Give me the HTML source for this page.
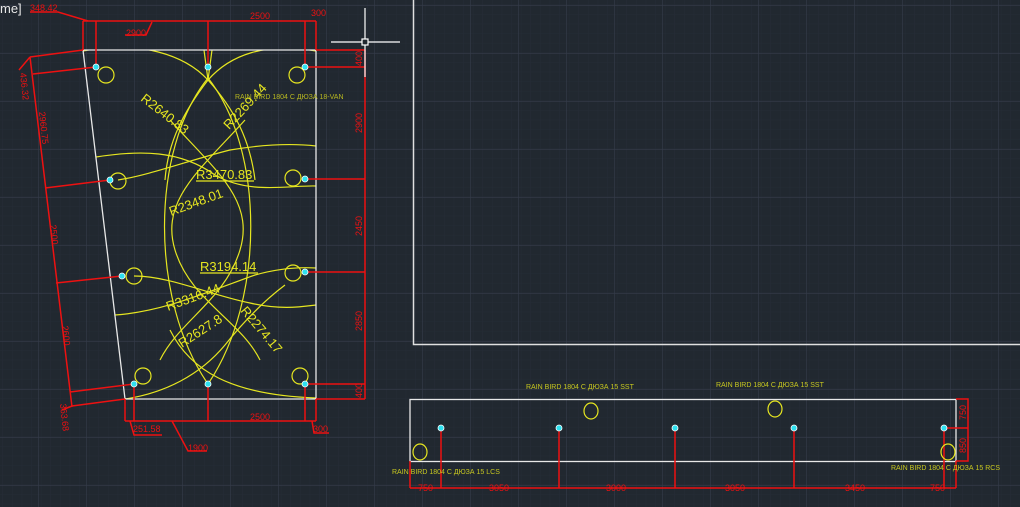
<!DOCTYPE html>
<html><head><meta charset="utf-8"><style>
html,body{margin:0;padding:0;background:#212830;}
svg{display:block;}
text{font-family:"Liberation Sans","DejaVu Sans",sans-serif;}
</style></head><body>
<svg width="1020" height="507" viewBox="0 0 1020 507" xmlns="http://www.w3.org/2000/svg">
<defs>
<pattern id="mi" width="9.6" height="9.6" patternUnits="userSpaceOnUse" x="3" y="5"><path d="M9.6 0V9.6M0 9.6H9.6" stroke="#252c36" stroke-width="1" fill="none"/></pattern>
<pattern id="ma" width="48" height="48" patternUnits="userSpaceOnUse" x="-10" y="5"><path d="M0 0V48M0 0H48" stroke="#353c4a" stroke-width="1.2" fill="none"/></pattern>
<clipPath id="cp"><polygon points="83,50 316,50 316,399 125,399"/></clipPath>
</defs>
<rect width="1020" height="507" fill="#212830"/>
<rect width="1020" height="507" fill="url(#mi)"/>
<rect width="1020" height="507" fill="url(#ma)"/>

<text x="0" y="13" fill="#e8e8e8" font-size="13">me]</text>

<!-- right frame -->
<path d="M413.5 0V344.5H1020" stroke="#e0e0e0" stroke-width="1.5" fill="none"/>

<!-- left drawing yellow arcs -->
<g clip-path="url(#cp)" stroke="#e6e620" stroke-width="1.2" fill="none">
<path d="M208,78 C150,150 150,300 208,384"/>
<path d="M208,78 C265,150 265,300 208,384"/>
<path d="M245,120 C200,170 160,200 175,250 C190,300 240,320 260,360"/>
<path d="M170,120 C215,170 255,200 240,250 C225,300 180,320 160,360"/>
<path d="M96,157 C140,150 180,150 215,175 C250,195 290,185 316,186"/>
<path d="M118,180 C150,175 190,160 230,150 C260,145 290,143 316,146"/>
<path d="M115,315 C160,312 200,295 255,275 C280,268 300,267 316,268"/>
<path d="M134,276 C170,276 210,295 250,303 C280,310 300,307 316,305"/>
<path d="M125,399 C165,393 200,375 225,345 C245,320 265,300 285,285"/>
<path d="M170,330 C190,370 230,395 316,398"/>
<path d="M83,51 C140,40 185,55 208,80 C235,110 250,140 255,180"/>
<path d="M316,51 C265,42 230,55 208,80 C185,110 168,140 165,180"/>
<path d="M204,50 L208,80 L212,50"/>
</g>
<!-- white outline -->
<polygon points="83,50 316,50 316,399 125,399" fill="none" stroke="#e8e8e8" stroke-width="1.3"/>

<!-- red dims left drawing -->
<g stroke="#ee1111" stroke-width="1.5" fill="none">
<path d="M83,21H316M83,21V50M96,21V67M208,21V67M305,21V67M316,21V50"/>
<path d="M88,21L58,12H30M152,22L146,35H125M316,50H365M305,67H365M305,179H365M305,272H365M305,384H365M316,399H365M365,50V399"/>
<path d="M125,421H316M125,399V421M134,384V421M208,384V421M305,384V421M316,399V421"/>
<path d="M130,421L134,435H162M172,421L188,451H207M312,421L314,433H329"/>
<path d="M30,57L72,407M30,57L83,50M33,74L96,67M45,188L110,180M56,283L122,276M70,392L134,384M72,406L125,399M30,57L19,70M72,406L62,410"/>
</g>
<g fill="#ee1111" font-size="9">
<text x="250" y="19">2500</text>
<text x="311" y="16">300</text>
<text x="30" y="11">348.42</text>
<text x="126" y="36">2900</text>
<text x="250" y="420">2500</text>
<text x="133" y="432">251.58</text>
<text x="188" y="451">1900</text>
<text x="313" y="432">300</text>
<text transform="translate(362,66) rotate(-90)">400</text>
<text transform="translate(362,133) rotate(-90)">2900</text>
<text transform="translate(362,236) rotate(-90)">2450</text>
<text transform="translate(362,331) rotate(-90)">2850</text>
<text transform="translate(362,398) rotate(-90)">400</text>
<text transform="translate(20,73) rotate(84)">436.32</text>
<text transform="translate(39,112) rotate(84)">2960.75</text>
<text transform="translate(50,225) rotate(84)">2500</text>
<text transform="translate(62,326) rotate(84)">2600</text>
<text transform="translate(60,404) rotate(84)">363.68</text>
</g>

<!-- small circles and nozzles -->
<g stroke="#e6e620" stroke-width="1.2" fill="none">
<circle cx="106" cy="75" r="8"/><circle cx="297" cy="75" r="8"/>
<circle cx="118" cy="181" r="8"/><circle cx="293" cy="178" r="8"/>
<circle cx="134" cy="276" r="8"/><circle cx="293" cy="273" r="8"/>
<circle cx="143" cy="376" r="8"/><circle cx="300" cy="376" r="8"/>
</g>
<g fill="#2ee0f0" stroke="#ffffff" stroke-width="0.8">
<circle cx="96" cy="67" r="3"/><circle cx="208" cy="67" r="3"/><circle cx="305" cy="67" r="3"/>
<circle cx="110" cy="180" r="3"/><circle cx="305" cy="179" r="3"/>
<circle cx="122" cy="276" r="3"/><circle cx="305" cy="272" r="3"/>
<circle cx="134" cy="384" r="3"/><circle cx="208" cy="384" r="3"/><circle cx="305" cy="384" r="3"/>
</g>

<!-- radius labels -->
<g fill="#e6e620" font-size="13">
<text transform="translate(140,100) rotate(38)">R2640.83</text>
<text transform="translate(229,130) rotate(-47)">R2269.44</text>
<text x="196" y="179">R3470.83</text>
<text transform="translate(171,216) rotate(-20)">R2348.01</text>
<text x="200" y="271">R3194.14</text>
<text transform="translate(168,311) rotate(-20)">R3316.44</text>
<text transform="translate(182,348) rotate(-33)">R2627.8</text>
<text transform="translate(240,311) rotate(50)">R2274.17</text>
</g>
<g stroke="#e6e620" stroke-width="1.2">
<line x1="196" y1="181" x2="254" y2="181"/>
<line x1="200" y1="273" x2="258" y2="273"/>
</g>
<text x="235" y="99" fill="#b8b820" font-size="7">RAIN BIRD 1804 С ДЮЗА 18-VAN</text>

<!-- crosshair -->
<g stroke="#ffffff" stroke-width="1.2" fill="none">
<line x1="331" y1="42" x2="400" y2="42"/>
<line x1="365" y1="8" x2="365" y2="77"/>
<rect x="362" y="39" width="6" height="6" fill="#212830"/>
</g>

<!-- bottom right drawing -->
<rect x="410" y="399.5" width="546" height="62" fill="none" stroke="#e8e8e8" stroke-width="1.3"/>
<g stroke="#ee1111" stroke-width="1.5" fill="none">
<path d="M956,399H968V461H956M944,428H968M944,428V488M410,461V488M410,488H956M441,428V488M559,428V488M675,428V488M794,428V488M956,461V488"/>
</g>
<g fill="#ee1111" font-size="9">
<text transform="translate(966,420) rotate(-90)">750</text>
<text transform="translate(966,453) rotate(-90)">850</text>
<text x="418" y="491">750</text>
<text x="489" y="491">3050</text>
<text x="606" y="491">3000</text>
<text x="725" y="491">3050</text>
<text x="845" y="491">3450</text>
<text x="930" y="491">750</text>
</g>
<g stroke="#e6e620" stroke-width="1.2" fill="none">
<ellipse cx="591" cy="411" rx="7" ry="8"/>
<ellipse cx="775" cy="409" rx="7" ry="8"/>
<ellipse cx="420" cy="452" rx="7" ry="8"/>
<ellipse cx="948" cy="452" rx="7" ry="8"/>
</g>
<g fill="#2ee0f0" stroke="#ffffff" stroke-width="0.8">
<circle cx="441" cy="428" r="3"/><circle cx="559" cy="428" r="3"/><circle cx="675" cy="428" r="3"/><circle cx="794" cy="428" r="3"/><circle cx="944" cy="428" r="3"/>
</g>
<g fill="#c8c820" font-size="7">
<text x="526" y="389">RAIN BIRD 1804 С ДЮЗА 15 SST</text>
<text x="716" y="387">RAIN BIRD 1804 С ДЮЗА 15 SST</text>
<text x="392" y="474">RAIN BIRD 1804 С ДЮЗА 15 LCS</text>
<text x="891" y="470">RAIN BIRD 1804 С ДЮЗА 15 RCS</text>
</g>
</svg>
</body></html>
